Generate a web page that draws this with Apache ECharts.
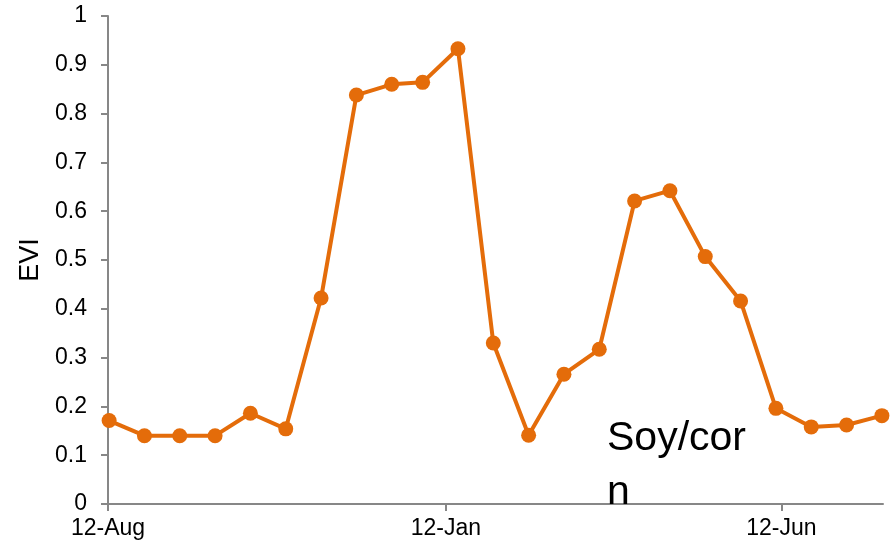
<!DOCTYPE html>
<html>
<head>
<meta charset="utf-8">
<title>EVI</title>
<script src="https://cdn.jsdelivr.net/npm/echarts@6/dist/echarts.min.js"></script>
<style>
  html, body { margin: 0; padding: 0; background: #ffffff; }
  #chart { width: 894px; height: 549px; }
</style>
</head>
<body>
<div id="chart"></div>
<script>
// 16-day composite dates
const dates = [
  '2011-08-12', '2011-08-28', '2011-09-13', '2011-09-29', '2011-10-15',
  '2011-10-31', '2011-11-16', '2011-12-02', '2011-12-18', '2012-01-01',
  '2012-01-17', '2012-02-02', '2012-02-18', '2012-03-05', '2012-03-21',
  '2012-04-06', '2012-04-22', '2012-05-08', '2012-05-24', '2012-06-09',
  '2012-06-25', '2012-07-11', '2012-07-27'
];

// EVI values per composite
const evi = [
  0.171, 0.140, 0.140, 0.140, 0.186,
  0.154, 0.422, 0.838, 0.860, 0.864,
  0.933, 0.330, 0.141, 0.266, 0.317,
  0.621, 0.642, 0.507, 0.416, 0.196,
  0.158, 0.162, 0.181
];

// Date-axis ticks and their labels
const tickDates = ['2011-08-12', '2012-01-12', '2012-06-12'];
const tickLabels = ['12-Aug', '12-Jan', '12-Jun'];

const axisStart = '2011-08-12';
const axisEnd = '2012-07-28';

// the x axis runs in days counted from axisStart
const DAY = 86400000;
const dayOf = s => Math.round((Date.parse(s + 'T00:00:00Z') - Date.parse(axisStart + 'T00:00:00Z')) / DAY);

// each point sits in the middle of its daily bin
const seriesData = dates.map((d, i) => [dayOf(d) + 0.5, evi[i]]);
const tickDays = tickDates.map(dayOf);

const axisGray = '#878787';
const font = '"Liberation Sans", Arial, sans-serif';

const chart = echarts.init(document.getElementById('chart'), null, { renderer: 'canvas' });

chart.setOption({
  animation: false,
  backgroundColor: '#ffffff',
  grid: { left: 108, right: 11, top: 16, bottom: 45, containLabel: false },
  xAxis: {
    type: 'value',
    min: 0,
    max: dayOf(axisEnd),
    splitLine: { show: false },
    axisLine: { show: true, lineStyle: { color: axisGray, width: 2 } },
    axisTick: {
      show: true, inside: false, length: 7,
      customValues: tickDays,
      lineStyle: { color: axisGray, width: 2 }
    },
    axisLabel: {
      customValues: tickDays,
      showMinLabel: true,
      showMaxLabel: true,
      margin: 13,
      color: '#000000',
      fontFamily: font,
      fontSize: 23,
      formatter: function (v) {
        const i = tickDays.indexOf(v);
        return i >= 0 ? tickLabels[i] : '';
      }
    }
  },
  yAxis: {
    type: 'value',
    min: 0,
    max: 1,
    interval: 0.1,
    name: 'EVI',
    nameLocation: 'middle',
    nameRotate: 90,
    nameGap: 62,
    nameTextStyle: { color: '#000000', fontFamily: font, fontSize: 27 },
    splitLine: { show: false },
    axisLine: { show: true, lineStyle: { color: axisGray, width: 2 } },
    axisTick: { show: true, inside: false, length: 7, lineStyle: { color: axisGray, width: 2 } },
    axisLabel: {
      margin: 21,
      color: '#000000',
      fontFamily: font,
      fontSize: 23,
      formatter: v => String(Math.round(v * 10) / 10)
    }
  },
  series: [{
    type: 'line',
    data: seriesData,
    symbol: 'circle',
    symbolSize: 15,
    showAllSymbol: true,
    lineStyle: { color: '#E46C0A', width: 4 },
    itemStyle: { color: '#E46C0A' },
    z: 3
  }],
  graphic: [{
    type: 'text',
    left: 607,
    top: 412,
    z: 10,
    style: {
      text: 'Soy/cor\nn',
      fill: '#000000',
      font: '41px "Liberation Sans", Arial, sans-serif',
      lineHeight: 54
    }
  }]
});
</script>
</body>
</html>
